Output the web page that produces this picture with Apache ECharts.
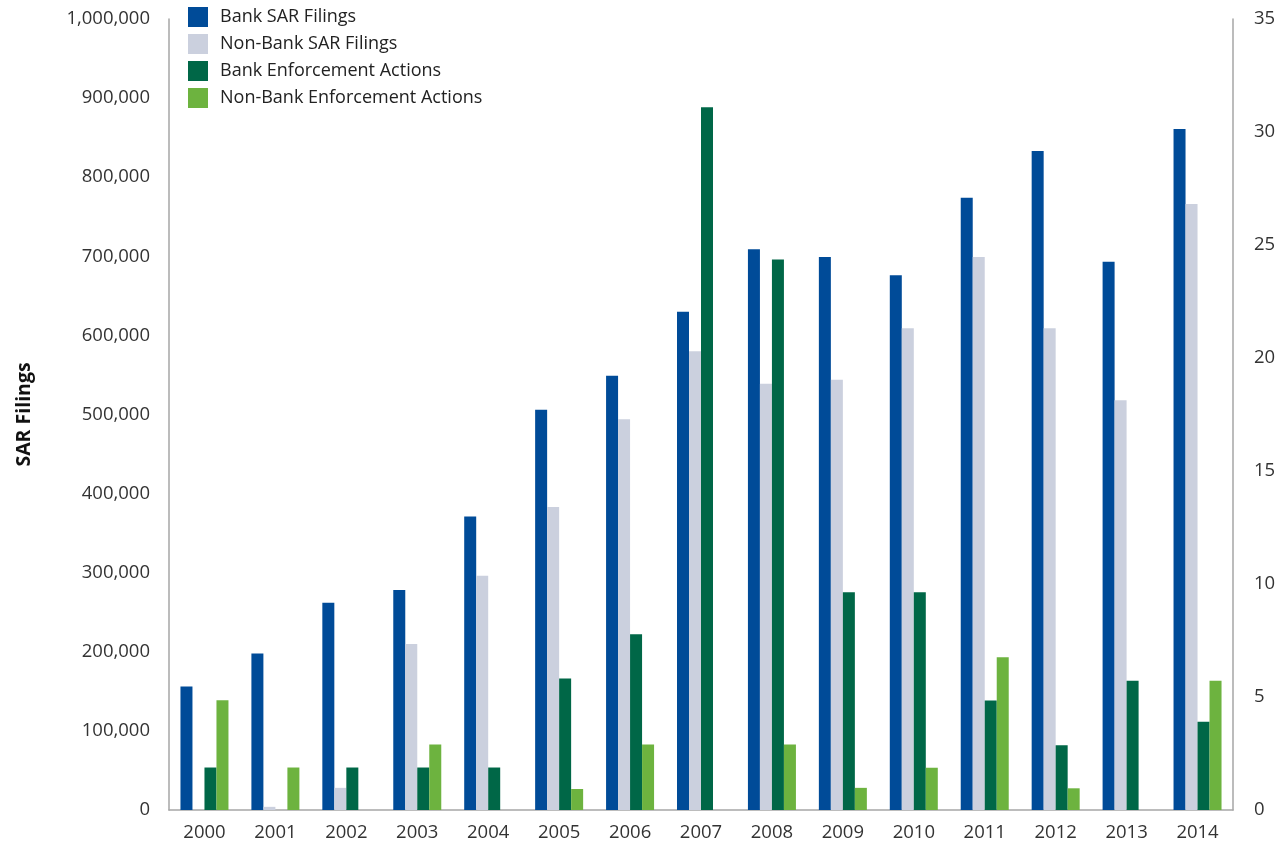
<!DOCTYPE html>
<html>
<head>
<meta charset="utf-8">
<script src="https://cdn.jsdelivr.net/npm/echarts@6/dist/echarts.min.js"></script>
<style>
  html, body { margin: 0; padding: 0; background: #fff; }
  #chart { width: 1288px; height: 846px; }
</style>
</head>
<body>
<div id="chart"></div>
<script>
var years = ['2000','2001','2002','2003','2004','2005','2006','2007','2008','2009','2010','2011','2012','2013','2014'];
var bankSAR = [156000,198000,262000,278000,371000,506000,549000,630000,709000,699000,676000,774000,833000,693000,861000];
var nonBankSAR = [0,4000,28000,210000,296000,383000,494000,580000,539000,544000,609000,699000,609000,518000,766000];
var bankEA = [1.88,0,1.88,1.88,1.88,5.82,7.78,31.1,24.36,9.64,9.64,4.84,2.87,5.72,3.9];
var nonBankEA = [4.86,1.88,0,2.9,0,0.93,2.9,0,2.9,0.98,1.87,6.76,0.96,0,5.72];
var leftTicks = {min: 0, max: 1000000, interval: 100000};
var rightTicks = {min: 0, max: 35, interval: 5};

var FONT = '"Open Sans", "Noto Sans", sans-serif';
var chart = echarts.init(document.getElementById('chart'), null, {renderer: 'canvas'});
var axisLineStyle = {color: '#a6a6a6', width: 1.5};

function mk(name, data, color, yIdx) {
  return {
    name: name, type: 'bar', data: data, yAxisIndex: yIdx,
    barWidth: 12, barGap: '0%',
    itemStyle: {color: color},
    emphasis: {disabled: true},
    animation: false
  };
}

chart.setOption({
  animation: false,
  textStyle: {fontFamily: FONT},
  grid: {left: 169, right: 55, top: 19, bottom: 36, containLabel: false},
  legend: {
    orient: 'vertical', left: 188, top: 7, padding: 0,
    itemWidth: 20, itemHeight: 20, itemGap: 7,
    icon: 'rect',
    textStyle: {fontFamily: FONT, fontSize: 18, color: '#222', padding: [0, 0, 0, 7]},
    data: ['Bank SAR Filings', 'Non-Bank SAR Filings', 'Bank Enforcement Actions', 'Non-Bank Enforcement Actions']
  },
  xAxis: {
    type: 'category', data: years,
    axisLine: {show: true, lineStyle: axisLineStyle},
    axisTick: {show: false},
    axisLabel: {fontFamily: FONT, fontSize: 18.5, color: '#333', margin: 13}
  },
  yAxis: [{
    type: 'value', min: leftTicks.min, max: leftTicks.max, interval: leftTicks.interval,
    name: 'SAR Filings', nameLocation: 'middle', nameGap: 135, nameRotate: 90,
    nameTextStyle: {fontFamily: FONT, fontSize: 19.5, fontWeight: 'bold', color: '#111'},
    axisLine: {show: true, lineStyle: axisLineStyle},
    axisTick: {show: false},
    splitLine: {show: false},
    axisLabel: {fontFamily: FONT, fontSize: 18.5, color: '#333', margin: 19,
      formatter: function (v) { return v.toLocaleString('en-US'); }}
  }, {
    type: 'value', position: 'right', min: rightTicks.min, max: rightTicks.max, interval: rightTicks.interval,
    axisLine: {show: true, lineStyle: axisLineStyle},
    axisTick: {show: false},
    splitLine: {show: false},
    axisLabel: {fontFamily: FONT, fontSize: 18.5, color: '#333', margin: 21}
  }],
  series: [
    mk('Bank SAR Filings', bankSAR, '#004b98', 0),
    mk('Non-Bank SAR Filings', nonBankSAR, '#cbd0de', 0),
    mk('Bank Enforcement Actions', bankEA, '#006747', 1),
    mk('Non-Bank Enforcement Actions', nonBankEA, '#6db33f', 1)
  ]
});
</script>
</body>
</html>
